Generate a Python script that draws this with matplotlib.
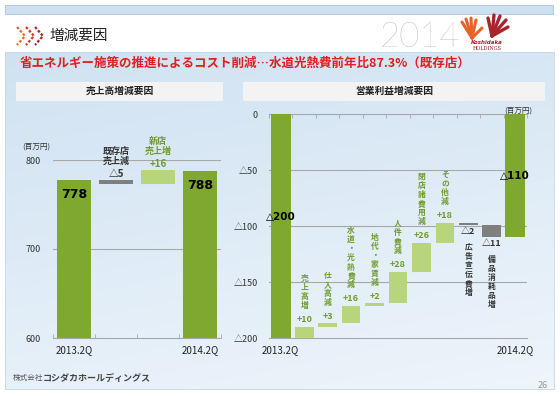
import numpy as np
import matplotlib
matplotlib.use('Agg')
import matplotlib.pyplot as plt
from matplotlib.patches import Rectangle
from matplotlib.lines import Line2D
from matplotlib.colors import LinearSegmentedColormap

plt.rcParams['font.family'] = ['Noto Sans CJK JP', 'DejaVu Sans']

# --- data ---
left_cats = ['2013.2Q', '既存店\n売上減', '新店\n売上増', '2014.2Q']
left_vals = [778, -5, 16, 788]

right_cats = ['2013.2Q', '売上高増', '仕入高減', '水道・光熱費減', '地代・家賃減', '人件費減',
              '閉店諸費用減', 'その他減', '広告宣伝費増', '備品消耗品増', '2014.2Q']
right_vals = [-200, 10, 3, 16, 2, 28, 26, 18, -2, -11, -110]

left_ticks = [600, 700, 800]
right_ticks = [0, -50, -100, -150, -200]

DARK = '#7ea82f'
LIGHT = '#b9d57c'
GRAY = '#7f7f7f'
LBLGREEN = '#6f9a2a'
GRID = '#a8a8a8'

W, H = 560, 396


def rect(x0, y0, x1, y1):
    return [x0 / W, 1 - y1 / H, (x1 - x0) / W, (y1 - y0) / H]


def fx(x):
    return x / W


def fy(y):
    return 1 - y / H


def fmt(v):
    return f'+{v}' if v > 0 else f'△{-v}'


def waterfall(vals, base):
    # bottoms and heights of the delta bars
    bottoms, heights = [], []
    run = base
    for v in vals:
        start = run
        run += v
        bottoms.append(min(start, run))
        heights.append(abs(v))
    return bottoms, heights


fig = plt.figure(figsize=(5.6, 3.96), dpi=100)

# top strip
fig.patches.append(Rectangle((fx(5), fy(14)), (548) / W, 9 / H, transform=fig.transFigure,
                             facecolor='#cde0f1', edgecolor='#a9c4dd', lw=0.6))

# background panel gradient
bg = fig.add_axes(rect(5, 52, 554, 389))
yy, xx = np.mgrid[0:1:100j, 0:1:100j]
grad = 0.75 * yy + 0.25 * xx
cmap = LinearSegmentedColormap.from_list('bg', ['#d0e2f2', '#eef5fb'])
bg.imshow(grad, cmap=cmap, aspect='auto', extent=[0, 1, 1, 0])
bg.set_axis_off()
fig.patches.append(Rectangle((fx(5), fy(389)), 549 / W, 337 / H, transform=fig.transFigure,
                             facecolor='none', edgecolor='#c3d6e8', lw=0.6, zorder=1))

# header
for i, c in enumerate(['#ee6a2a', '#d8352b', '#a8232d']):
    x0 = 17 + i * 9
    fig.lines.append(Line2D([fx(x0), fx(x0 + 8), fx(x0)], [fy(27), fy(36), fy(45)],
                            transform=fig.transFigure, color=c, lw=1.6,
                            linestyle=(0, (1.2, 0.8))))
fig.text(fx(50), fy(36), '増減要因', fontsize=10.5, color='#222222', va='center', ha='left')
fig.text(fx(420), fy(37), '2014', fontsize=25, color='#a6a6a6', va='center', ha='center',
         family='Lato', fontweight='light')

# rough logo
for (x1, y1) in [(462, 22), (466, 19), (471, 18), (476, 20), (482, 28)]:
    fig.lines.append(Line2D([fx(472), fx(x1)], [fy(38), fy(y1)], transform=fig.transFigure,
                            color='#e8632a', lw=2.2, solid_capstyle='round'))
for (x1, y1) in [(488, 18), (494, 15), (500, 16), (506, 20), (508, 27)]:
    fig.lines.append(Line2D([fx(492), fx(x1)], [fy(36), fy(y1)], transform=fig.transFigure,
                            color='#a8232d', lw=2.4, solid_capstyle='round'))
fig.text(fx(487), fy(43), 'Koshidaka', fontsize=4, color='#b0202a', ha='center', va='center',
         family='DejaVu Sans', fontweight='bold', style='italic')
fig.text(fx(487), fy(48), 'HOLDINGS', fontsize=3.5, color='#8a1c24', ha='center', va='center',
         family='DejaVu Serif')

# subtitle
fig.text(fx(20), fy(63), '省エネルギー施策の推進によるコスト削減…水道光熱費前年比87.3%（既存店）',
         fontsize=9, color='#e0201e', fontweight='bold', va='center', ha='left')

# panel title boxes
for (x0, x1, t) in [(16, 223, '売上高増減要因'), (243, 545, '営業利益増減要因')]:
    fig.patches.append(Rectangle((fx(x0), fy(101)), (x1 - x0) / W, 19 / H,
                                 transform=fig.transFigure, facecolor='#f3f3f3',
                                 edgecolor='none', zorder=2))
    fig.text(fx((x0 + x1) / 2), fy(91), t, fontsize=7, fontweight='bold', color='#222222',
             ha='center', va='center', zorder=3)

# ---------------- left chart ----------------
ax1 = fig.add_axes(rect(53, 160, 221, 338))
ax1.set_facecolor('none')
n1 = len(left_cats)
x1 = np.arange(n1)
bw = 0.81
ax1.bar(x1[0], left_vals[0] - 600, bottom=600, width=bw, color=DARK, zorder=3)
ax1.bar(x1[-1], left_vals[-1] - 600, bottom=600, width=bw, color=DARK, zorder=3)
b1, h1 = waterfall(left_vals[1:-1], left_vals[0])
for i, (b, h, v) in enumerate(zip(b1, h1, left_vals[1:-1]), start=1):
    ax1.bar(x1[i], h, bottom=b, width=bw, color=LIGHT if v > 0 else GRAY, zorder=3)
    col = LBLGREEN if v > 0 else '#333333'
    ax1.annotate(fmt(v), (x1[i], b + h), xytext=(0, 0.5), textcoords='offset points',
                 ha='center', va='bottom', fontsize=7, color=col, fontweight='bold')
    ax1.annotate(left_cats[i], (x1[i], b + h), xytext=(0, 10), textcoords='offset points',
                 ha='center', va='bottom', fontsize=6.5, color=col, fontweight='bold',
                 linespacing=1.1)
for i in [0, n1 - 1]:
    ax1.annotate(str(left_vals[i]), (x1[i], left_vals[i]), xytext=(0, -11),
                 textcoords='offset points', ha='center', va='center', fontsize=9,
                 fontweight='bold', family='DejaVu Sans', color='black')
ax1.set_xlim(-0.5, n1 - 0.5)
ax1.set_ylim(600, 800)
for t in left_ticks[1:]:
    ax1.axhline(t, color=GRID, lw=0.8, zorder=1)
for s in ['top', 'right', 'left']:
    ax1.spines[s].set_visible(False)
ax1.spines['bottom'].set_color(GRID)
ax1.set_yticks(left_ticks)
ax1.set_yticklabels([str(t) for t in left_ticks])
ax1.tick_params(axis='y', length=0, pad=9, labelsize=6.5, labelcolor='#333333')
ax1.set_xticks([0, n1 - 1])
ax1.set_xticklabels([left_cats[0], left_cats[-1]])
ax1.tick_params(axis='x', which='major', length=0, pad=5, labelsize=7, labelcolor='#222222')
ax1.set_xticks(np.arange(-0.5, n1), minor=True)
ax1.tick_params(axis='x', which='minor', direction='in', length=3, color=GRID)
fig.text(fx(36), fy(147), '(百万円)', fontsize=5.5, color='#333333', ha='center', va='center')

# ---------------- right chart ----------------
ax2 = fig.add_axes(rect(269, 114, 527, 338))
ax2.set_facecolor('none')
n2 = len(right_cats)
x2 = np.arange(n2)
bw2 = 0.84
ax2.bar(x2[0], right_vals[0], width=bw2, color=DARK, zorder=3)
ax2.bar(x2[-1], right_vals[-1], width=bw2, color=DARK, zorder=3)
b2, h2 = waterfall(right_vals[1:-1], right_vals[0])
for i, (b, h, v) in enumerate(zip(b2, h2, right_vals[1:-1]), start=1):
    up = v > 0
    ax2.bar(x2[i], h, bottom=b, width=0.8, color=LIGHT if up else GRAY, zorder=3)
    col = LBLGREEN if up else '#333333'
    vert = '\n'.join(right_cats[i])
    if up:
        ax2.annotate(fmt(v), (x2[i], b + h), xytext=(0, 2), textcoords='offset points',
                     ha='center', va='bottom', fontsize=6.5, color=col, fontweight='bold')
        ax2.annotate(vert, (x2[i], b + h), xytext=(0, 12), textcoords='offset points',
                     ha='center', va='bottom', fontsize=5.6, color=col, fontweight='bold',
                     linespacing=1.0)
    else:
        ax2.annotate(fmt(v), (x2[i], b), xytext=(0, -1.5), textcoords='offset points',
                     ha='center', va='top', fontsize=6.5, color=col, fontweight='bold')
        ax2.annotate(vert, (x2[i], b), xytext=(0, -13), textcoords='offset points',
                     ha='center', va='top', fontsize=5.6, color=col, fontweight='bold',
                     linespacing=1.0)
ax2.annotate(fmt(right_vals[0]), (x2[0], right_vals[0]), xytext=(0, 87),
             textcoords='offset points', ha='center', va='center', fontsize=7.5,
             fontweight='bold', family='DejaVu Sans', color='black')
ax2.annotate(fmt(right_vals[-1]), (x2[-1], right_vals[-1] / 2), xytext=(0, 0),
             textcoords='offset points', ha='center', va='center', fontsize=7.5,
             fontweight='bold', family='DejaVu Sans', color='black')
ax2.set_xlim(-0.5, n2 - 0.5)
ax2.set_ylim(-200, 0)
for t in right_ticks[1:-1]:
    ax2.axhline(t, color=GRID, lw=0.8, zorder=1)
for s in ['right', 'left']:
    ax2.spines[s].set_visible(False)
ax2.spines['bottom'].set_color(GRID)
ax2.spines['top'].set_color(GRID)
ax2.set_yticks(right_ticks)
ax2.set_yticklabels(['0' if t == 0 else f'△{-t}' for t in right_ticks])
ax2.tick_params(axis='y', length=0, pad=8, labelsize=6.5, labelcolor='#333333')
ax2.set_xticks([0, n2 - 1])
ax2.set_xticklabels([right_cats[0], right_cats[-1]])
ax2.tick_params(axis='x', which='major', length=0, pad=5, labelsize=7, labelcolor='#222222')
ax2.set_xticks(np.arange(-0.5, n2), minor=True)
ax2.tick_params(axis='x', which='minor', bottom=False, top=True, direction='in', length=3,
                color=GRID)
fig.text(fx(518), fy(111), '(百万円)', fontsize=5.5, color='#333333', ha='center', va='center')

# footer
fig.text(fx(13), fy(378), '株式会社', fontsize=5.5, color='#555555', ha='left', va='center')
fig.text(fx(43), fy(378), 'コシダカホールディングス', fontsize=6.5, color='#444444',
         fontweight='bold', ha='left', va='center')
fig.text(fx(543), fy(385), '26', fontsize=6.5, color='#999999', ha='center', va='center')

fig.savefig('out.png', dpi=100)
